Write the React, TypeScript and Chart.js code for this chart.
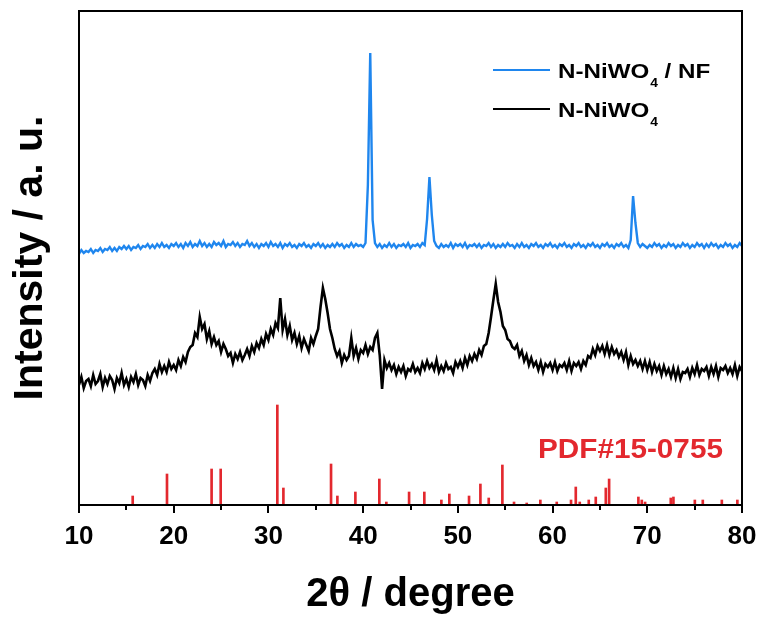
import React, { useEffect, useRef } from 'react';
import { Chart, registerables } from 'chart.js';

Chart.register(...registerables);

// ---------- DATA ----------
const X_START = 10; // 2θ of first sample
const X_STEP = 0.25; // sampling step (degrees)
const X_MIN = 10;
const X_MAX = 80;
const MAJOR_TICKS = [10, 20, 30, 40, 50, 60, 70, 80];
const MINOR_TICKS = [15, 25, 35, 45, 55, 65, 75];

const SERIES_LABELS = ['N-NiWO₄ / NF', 'N-NiWO₄'];
const LEGEND_MAIN = ['N-NiWO', 'N-NiWO'];
const LEGEND_SUB = ['4', '4'];
const LEGEND_TAIL = [' / NF', ''];
const REF_LABEL = 'PDF#15-0755';

// N-NiWO4 / NF (blue), intensity (a.u.), 10° → 80° every 0.25°
const BLUE_Y = [
  251, 255, 252, 254, 253, 256, 252, 255, 254, 257, 253, 256, 255, 258, 254, 257,
  254, 258, 256, 259, 256, 259, 255, 258, 257, 260, 256, 259, 258, 261, 257, 260,
  257, 261, 258, 262, 258, 260, 257, 261, 259, 262, 258, 261, 257, 262, 259, 263,
  258, 261, 259, 264, 259, 262, 258, 261, 258, 263, 260, 262, 259, 264, 258, 261,
  260, 263, 259, 262, 258, 261, 260, 264, 259, 262, 258, 261, 257, 261, 259, 262,
  258, 263, 259, 261, 258, 262, 257, 261, 259, 262, 258, 260, 257, 261, 259, 262,
  258, 260, 257, 261, 259, 262, 258, 261, 257, 260, 258, 261, 258, 262, 259, 261,
  257, 260, 258, 262, 258, 261, 259, 260, 258, 262, 320, 452, 285, 262, 258, 261,
  257, 260, 258, 262, 258, 261, 257, 260, 259, 261, 258, 262, 257, 260, 259, 261,
  258, 262, 260, 286, 328, 290, 264, 259, 257, 261, 258, 260, 258, 262, 257, 261,
  259, 261, 258, 262, 257, 260, 259, 261, 258, 261, 257, 260, 259, 262, 258, 261,
  257, 260, 258, 261, 258, 262, 259, 260, 257, 261, 258, 262, 258, 260, 257, 261,
  259, 262, 258, 260, 257, 261, 259, 262, 258, 260, 257, 261, 259, 262, 258, 260,
  257, 261, 259, 262, 258, 260, 257, 261, 259, 262, 258, 260, 257, 261, 259, 262,
  258, 260, 257, 261, 259, 262, 258, 260, 257, 265, 309, 282, 262, 258, 261, 259,
  257, 260, 258, 262, 259, 261, 257, 260, 258, 262, 259, 261, 257, 260, 258, 262,
  259, 261, 257, 260, 258, 262, 259, 261, 257, 261, 258, 262, 259, 261, 257, 260,
  258, 262, 259, 261, 257, 260, 258, 262, 259,
];

// N-NiWO4 (black), intensity (a.u.), 10° → 80° every 0.25°
const BLACK_Y = [
  120, 128, 117, 124, 126, 119, 130, 121, 124, 131, 118, 127, 121, 129, 125, 116,
  127, 122, 132, 120, 126, 118, 128, 123, 131, 120, 127, 125, 119, 130, 124, 132,
  136, 130, 141, 133, 139, 133, 143, 136, 140, 135, 145, 139, 148, 143, 153, 158,
  160, 172, 168, 188, 176, 181, 166, 174, 161, 168, 160, 164, 153, 161, 156, 149,
  152, 142, 151, 146, 153, 145, 150, 156, 149, 159, 153, 162, 157, 166, 160, 171,
  165, 176, 170, 182, 177, 207, 175, 186, 170, 179, 165, 172, 161, 169, 157, 166,
  160, 154, 167, 161, 169, 176, 198, 217, 206, 192, 176, 167, 156, 149, 154, 142,
  150, 145, 149, 167, 149, 157, 146, 155, 152, 160, 151, 158, 155, 167, 172, 150,
  116, 145, 137, 142, 135, 140, 131, 138, 133, 139, 129, 136, 134, 141, 133, 137,
  132, 142, 136, 144, 137, 141, 135, 145, 133, 139, 134, 142, 136, 138, 132, 143,
  138, 144, 137, 147, 140, 149, 144, 151, 146, 155, 150, 159, 161, 172, 188, 205,
  221, 203, 193, 179, 175, 166, 164, 158, 156, 160, 149, 154, 144, 150, 140, 147,
  139, 143, 135, 143, 133, 141, 138, 142, 135, 143, 134, 140, 138, 142, 135, 144,
  134, 142, 139, 143, 136, 144, 140, 149, 147, 156, 150, 159, 154, 159, 151, 160,
  150, 158, 151, 155, 148, 153, 145, 153, 140, 149, 141, 145, 139, 144, 136, 144,
  135, 143, 133, 141, 134, 139, 130, 139, 131, 136, 128, 137, 127, 136, 126, 133,
  132, 136, 128, 137, 131, 140, 130, 136, 134, 138, 129, 138, 131, 139, 128, 137,
  135, 139, 132, 137, 131, 140, 129, 138, 134,
];

// Reference pattern PDF#15-0755: 2θ positions and relative intensities
const PDF_POS = [
  15.67, 19.29, 24.0, 24.96, 30.94, 31.58, 36.61, 37.28, 39.18, 41.71, 42.45,
  44.85, 46.46, 48.26, 49.1, 51.18, 52.38, 53.26, 54.7, 55.93, 57.27, 58.71,
  60.44, 61.95, 62.45, 62.87, 63.82, 64.56, 65.62, 65.97, 69.06, 69.42, 69.77,
  72.48, 72.76, 75.02, 75.86, 77.87, 79.51,
];
const PDF_INT = [
  9, 31, 36, 36, 100, 17, 41, 9, 13, 26, 3,
  13, 13, 5, 11, 9, 21, 7, 40, 3, 2, 5,
  3, 5, 18, 3, 5, 8, 17, 26, 8, 5, 3,
  7, 8, 5, 5, 5, 5,
];

// ---------- STYLE ----------
const FONT = "'Liberation Sans', Arial, Helvetica, sans-serif";
const BLUE = '#1f86ee';
const BLACK = '#000000';
const RED = '#e3282e';

function drawScaled(ctx: CanvasRenderingContext2D, text: string, x: number, y: number, font: string, sx: number) {
  ctx.save();
  ctx.font = font;
  ctx.translate(x, y);
  ctx.scale(sx, 1);
  ctx.fillText(text, 0, 0);
  const w = ctx.measureText(text).width * sx;
  ctx.restore();
  return w;
}

const decorPlugin = {
  id: 'decor',
  afterDraw(chart: any) {
    const { ctx, chartArea: a, scales } = chart;
    const x = scales.x;
    ctx.save();
    // frame
    ctx.strokeStyle = '#000';
    ctx.lineWidth = 2;
    ctx.strokeRect(a.left, a.top, a.right - a.left, a.bottom - a.top);
    // tick marks (major 8px, minor 5px, outward)
    const drawTick = (v: number, len: number) => {
      const px = Math.round(x.getPixelForValue(v));
      ctx.beginPath();
      ctx.moveTo(px, a.bottom);
      ctx.lineTo(px, a.bottom + len);
      ctx.stroke();
    };
    MAJOR_TICKS.forEach((v) => drawTick(v, 8));
    MINOR_TICKS.forEach((v) => drawTick(v, 5));
    // legend
    const colors = [BLUE, BLACK];
    const rowsY = [70, 109];
    const sx = 1.15;
    for (let i = 0; i < 2; i++) {
      const ly = rowsY[i];
      ctx.strokeStyle = colors[i];
      ctx.lineWidth = 2;
      ctx.beginPath();
      ctx.moveTo(493, ly);
      ctx.lineTo(550, ly);
      ctx.stroke();
      ctx.fillStyle = '#000';
      ctx.textBaseline = 'alphabetic';
      ctx.textAlign = 'left';
      let tx = 558;
      const base = ly + 8;
      tx += drawScaled(ctx, LEGEND_MAIN[i], tx, base, `bold 21px ${FONT}`, sx);
      tx += 1;
      tx += drawScaled(ctx, LEGEND_SUB[i], tx, base + 9, `bold 12px ${FONT}`, sx);
      if (LEGEND_TAIL[i]) drawScaled(ctx, LEGEND_TAIL[i], tx, base, `bold 21px ${FONT}`, sx);
    }
    // reference label
    ctx.fillStyle = RED;
    drawScaled(ctx, REF_LABEL, 538, 458, `bold 27px ${FONT}`, 1.1);
    ctx.restore();
  },
};

export default function App() {
  const canvasRef = useRef<HTMLCanvasElement | null>(null);

  useEffect(() => {
    const canvas = canvasRef.current;
    if (!canvas) return;
    const blueData = BLUE_Y.map((y, i) => ({ x: X_START + i * X_STEP, y }));
    const blackData = BLACK_Y.map((y, i) => ({ x: X_START + i * X_STEP, y }));
    const pdfData = PDF_POS.map((x, i) => ({ x, y: PDF_INT[i] }));

    const chart = new Chart(canvas, {
      type: 'line',
      data: {
        datasets: [
          {
            type: 'bar',
            label: REF_LABEL,
            data: pdfData as any,
            backgroundColor: RED,
            borderWidth: 0,
            barThickness: 2,
            grouped: false,
          } as any,
          {
            label: SERIES_LABELS[1],
            data: blackData as any,
            borderColor: BLACK,
            borderWidth: 2.6,
            pointRadius: 0,
            tension: 0,
            fill: false,
          },
          {
            label: SERIES_LABELS[0],
            data: blueData as any,
            borderColor: BLUE,
            borderWidth: 2.4,
            pointRadius: 0,
            tension: 0,
            fill: false,
          },
        ],
      },
      options: {
        responsive: false,
        animation: false,
        devicePixelRatio: 1,
        layout: { padding: { top: 11, right: 21, left: 0, bottom: 0 } },
        plugins: {
          legend: { display: false },
          tooltip: { enabled: false },
        },
        scales: {
          x: {
            type: 'linear',
            min: X_MIN,
            max: X_MAX,
            offset: false,
            afterFit: (s: any) => {
              s.height = 116;
              s.paddingLeft = 0;
              s.paddingRight = 0;
            },
            border: { display: false },
            grid: { display: false },
            ticks: {
              stepSize: 10,
              autoSkip: false,
              maxRotation: 0,
              padding: 11,
              color: '#000',
              font: { family: FONT, size: 26, weight: 'bold', lineHeight: 1 },
            },
            title: {
              display: true,
              text: '2θ / degree',
              color: '#000',
              padding: { top: 0, bottom: 6 },
              font: { family: FONT, size: 40, weight: 'bold', lineHeight: 1 },
            },
          },
          y: {
            type: 'linear',
            min: 0,
            max: 494,
            afterFit: (s: any) => {
              s.width = 79;
              s.paddingTop = 0;
              s.paddingBottom = 0;
            },
            border: { display: false },
            grid: { display: false },
            ticks: { display: false },
            title: {
              display: true,
              text: 'Intensity / a. u.',
              color: '#000',
              padding: { top: 10, bottom: 0 },
              font: { family: FONT, size: 41, weight: 'bold', lineHeight: 1 },
            },
          },
        },
      } as any,
      plugins: [decorPlugin],
    });
    return () => chart.destroy();
  }, []);

  return (
    <div style={{ position: 'fixed', left: 0, top: 0, width: 763, height: 621, background: '#fff' }}>
      <canvas ref={canvasRef} width={763} height={621} style={{ display: 'block', width: 763, height: 621 }} />
    </div>
  );
}
